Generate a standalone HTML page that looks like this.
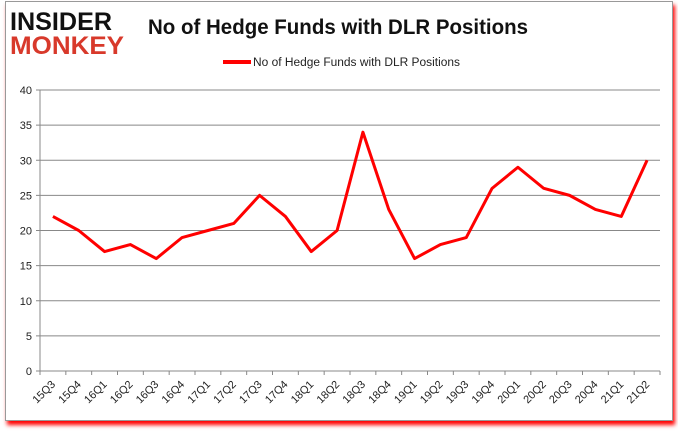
<!DOCTYPE html>
<html><head><meta charset="utf-8"><style>
body{margin:0;width:678px;height:431px;background:#fff;font-family:"Liberation Sans",sans-serif;overflow:hidden}
#card{position:absolute;left:5px;top:1px;width:666px;height:418px;border:1px solid #999;background:#fff;box-shadow:2px 4px 4px #f00}
</style></head><body>
<div id="card"></div>
<svg id="svg" width="678" height="431" style="position:absolute;left:0;top:0">
<text x="10" y="30" font-size="25" font-weight="bold" fill="#111" font-family="Liberation Sans" textLength="102" lengthAdjust="spacingAndGlyphs">INSIDER</text>
<text x="10" y="54" font-size="25" font-weight="bold" fill="#d8392b" font-family="Liberation Sans" textLength="114" lengthAdjust="spacingAndGlyphs">MONKEY</text>
<text x="148" y="34" font-size="21" font-weight="bold" fill="#111" textLength="380" lengthAdjust="spacingAndGlyphs">No of Hedge Funds with DLR Positions</text>
<line x1="223" y1="62" x2="251" y2="62" stroke="#f00" stroke-width="4"/>
<text x="253" y="66" font-size="11.5" fill="#222" textLength="207" lengthAdjust="spacingAndGlyphs">No of Hedge Funds with DLR Positions</text>
<g id="g"></g>
</svg>
<script>
const categories=["15Q3","15Q4","16Q1","16Q2","16Q3","16Q4","17Q1","17Q2","17Q3","17Q4","18Q1","18Q2","18Q3","18Q4","19Q1","19Q2","19Q3","19Q4","20Q1","20Q2","20Q3","20Q4","21Q1","21Q2"];
const values=[22,20,17,18,16,19,20,21,25,22,17,20,34,23,16,18,19,26,29,26,25,23,22,30];
const yTicks=[0,5,10,15,20,25,30,35,40];
const L=40,R=660,T=90,B=371,ymax=40;
const bw=(R-L)/categories.length;
const xs=i=>L+bw*(i+0.5);
const ys=v=>B-(B-T)*v/ymax;
const g=document.getElementById('g');
const NS='http://www.w3.org/2000/svg';
function mk(t,a){const e=document.createElementNS(NS,t);for(const k in a)e.setAttribute(k,a[k]);g.appendChild(e);return e;}
yTicks.forEach(v=>{
 const l=mk('line',{x1:L-4,x2:R,y1:ys(v),y2:ys(v),stroke:'#888','stroke-width':1});
 
 
 const t=mk('text',{x:L-8,y:ys(v)+4,'text-anchor':'end','font-size':11,fill:'#222'});
 t.textContent=v;
 
 
});
const ax=mk('line',{x1:L,x2:L,y1:T,y2:B+4,stroke:'#888'});


categories.forEach((c,i)=>{
 const tk=mk('line',{x1:L+bw*(i+1),x2:L+bw*(i+1),y1:B,y2:B+4,stroke:'#888'});
 
 
 const x=xs(i)+3,y=B+14;
 const t=mk('text',{x:x,y:y,'text-anchor':'end','font-size':11,fill:'#222',transform:`rotate(-45 ${x} ${y})`});
 t.textContent=c;
 
 
});
const p=mk('polyline',{points:values.map((v,i)=>xs(i)+','+ys(v)).join(' '),fill:'none',stroke:'#f00','stroke-width':3,'stroke-linejoin':'round'});


</script>
</body></html>
